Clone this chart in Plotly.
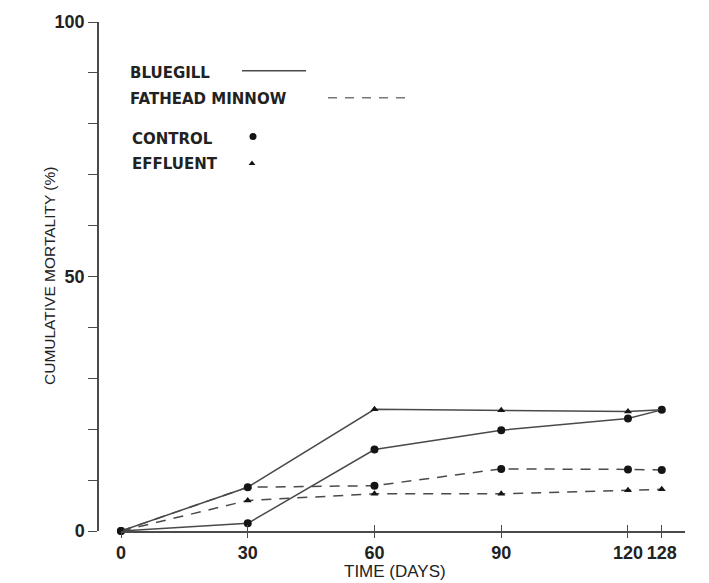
import plotly.graph_objects as go

# Sampling days and cumulative mortality (%) for each group
days = [0, 30, 60, 90, 120, 128]
bluegill_control = [0, 1.5, 16.0, 19.8, 22.1, 23.8]
bluegill_effluent = [0, 8.6, 23.9, 23.7, 23.5, 23.8]
fathead_control = [0, 8.6, 8.9, 12.2, 12.1, 12.0]
fathead_effluent = [0, 6.0, 7.3, 7.3, 8.0, 8.2]

x_tick_vals = [0, 30, 60, 90, 120, 128]
y_tick_vals = [0, 10, 20, 30, 40, 50, 60, 70, 80, 90, 100]
y_tick_text = ["0", "", "", "", "", "50", "", "", "", "", "100"]

W, H = 709, 583
ML, MR, MT, MB = 98, 24, 20, 52
PW, PH = W - ML - MR, H - MT - MB
X0_PX = 121  # left end of the time axis

INK = "#222222"
LINE = "#4a4a4a"
SANS = "Liberation Sans"
KEYFONT = "DejaVu Sans"


def px(x):
    return (x - ML) / PW


def py(y):
    return (H - MB - y) / PH


fig = go.Figure()

series = [
    (bluegill_control, "solid", "circle", 8),
    (bluegill_effluent, "solid", "triangle-up", 7),
    (fathead_control, "10px,8px", "circle", 8),
    (fathead_effluent, "10px,8px", "triangle-up", 7),
]
for values, dash, symbol, size in series:
    fig.add_trace(go.Scatter(
        x=days, y=values, mode="lines+markers",
        line=dict(color=LINE, width=1.5, dash=dash),
        marker=dict(symbol=symbol, size=size, color="#151515"),
        cliponaxis=False, showlegend=False, hoverinfo="skip",
    ))

x_domain = [px(X0_PX), 1.0]
tick_font = dict(family=SANS, size=18, color=INK, weight="bold")
fig.update_layout(
    width=W, height=H,
    margin=dict(l=ML, r=MR, t=MT, b=MB),
    paper_bgcolor="white", plot_bgcolor="white",
    font=dict(family=SANS, color=INK, size=14),
    xaxis=dict(
        domain=x_domain, range=[0, 133.5], anchor="y",
        showgrid=False, zeroline=False,
        showline=True, linecolor=LINE, linewidth=1.5,
        tickmode="array", tickvals=x_tick_vals,
        ticks="outside", ticklen=5, tickwidth=1.3, tickcolor=LINE,
        tickfont=tick_font,
    ),
    xaxis2=dict(
        domain=x_domain, range=[0, 133.5], anchor="y", overlaying="x",
        showgrid=False, zeroline=False, showline=False,
        tickmode="array", tickvals=x_tick_vals, showticklabels=False,
        ticks="inside", ticklen=6, tickwidth=1.3, tickcolor=LINE,
    ),
    yaxis=dict(
        range=[0, 100], anchor="free", position=0,
        showgrid=False, zeroline=False,
        showline=True, linecolor=LINE, linewidth=1.5,
        tickmode="array", tickvals=y_tick_vals, ticktext=y_tick_text,
        ticks="outside", ticklen=9, tickwidth=1.3, tickcolor=LINE,
        tickfont=tick_font,
    ),
    # pixel-space overlay (shares the time axis domain) for the key symbols
    xaxis3=dict(range=[X0_PX, W - MR], anchor="y3",
                overlaying="x", visible=False),
    yaxis3=dict(range=[H - MB, MT], anchor="x3",
                overlaying="y", visible=False),
)

# invisible trace so the overlay axis carrying the inner tick marks is drawn
fig.add_trace(go.Scatter(x=[0], y=[0], xaxis="x2", mode="markers",
                         marker=dict(opacity=0), showlegend=False,
                         hoverinfo="skip"))

# axis titles
fig.add_annotation(text="TIME (DAYS)", xref="paper", yref="paper",
                   x=px(395), y=py(572), xanchor="center", yanchor="middle",
                   showarrow=False,
                   font=dict(family=SANS, size=17, color=INK))
fig.add_annotation(text="CUMULATIVE MORTALITY (%)", xref="paper", yref="paper",
                   x=px(49), y=py(275), xanchor="center", yanchor="middle",
                   textangle=-90, showarrow=False,
                   font=dict(family=SANS, size=15.5, color=INK))

# key: species by line style, treatment by marker
key_font = dict(family=KEYFONT, size=15, color=INK, weight="bold")
labels = [
    ("BLUEGILL", 128, 71),
    ("FATHEAD MINNOW", 128, 97),
    ("CONTROL", 130, 137),
    ("EFFLUENT", 130, 163),
]
for text, x, y in labels:
    fig.add_annotation(text=text, xref="paper", yref="paper",
                       x=px(x), y=py(y), xanchor="left", yanchor="middle",
                       showarrow=False, font=key_font)

key_items = [
    ([242, 306], [69, 69], "lines", dict(color=LINE, width=1.5), None),
    ([328, 405], [96, 96], "lines",
     dict(color="#777777", width=1.5, dash="9px,8px"), None),
    ([253], [135], "markers", None,
     dict(symbol="circle", size=7, color="#151515")),
    ([252], [162], "markers", None,
     dict(symbol="triangle-up", size=6, color="#151515")),
]
for xs, ys, mode, line, marker in key_items:
    fig.add_trace(go.Scatter(x=xs, y=ys, mode=mode, xaxis="x3", yaxis="y3",
                             line=line, marker=marker, showlegend=False,
                             hoverinfo="skip", cliponaxis=False))

fig.write_html("out.html")
